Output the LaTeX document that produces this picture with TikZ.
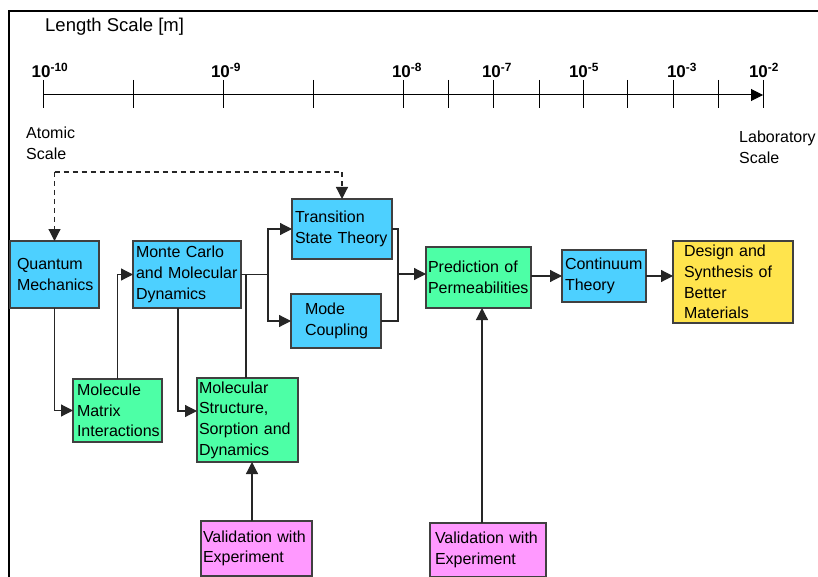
\documentclass[tikz,border=0pt]{standalone}
\usepackage{fontspec}
\setmainfont{Liberation Sans}
\usetikzlibrary{arrows.meta}

\definecolor{tcyan}{RGB}{77,208,255}
\definecolor{tgreen}{RGB}{77,255,166}
\definecolor{tyellow}{RGB}{255,228,77}
\definecolor{tpink}{RGB}{255,153,255}

\newcommand{\boxfont}{\fontsize{16}{20.7}\selectfont\hyphenpenalty=10000}
\newcommand{\tenpow}[1]{10\textsuperscript{-#1}}

\begin{document}
\begin{tikzpicture}[x=1pt,y=-1pt,
  arr/.style={-{Triangle[length=12pt,width=12pt]}},
  link/.style={line width=1.2pt, draw=black!85},
  cell/.style n args={3}{draw=black!75, line width=1.3pt, anchor=north west,
    outer sep=0pt, inner ysep=0pt, inner xsep=#3pt, minimum width=#1pt,
    minimum height=#2pt, text width={#1pt-2*#3pt}, align=left, font=\boxfont},
  theory/.style={fill=tcyan},
  model/.style={fill=tgreen},
  goal/.style={fill=tyellow},
  check/.style={fill=tpink},
  tickmark/.style={line width=1pt},
  scalelabel/.style={anchor=base, inner sep=0pt, font=\fontsize{17}{19}\selectfont\bfseries}
]
\useasboundingbox (0,0) rectangle (818,577);

% frame
\draw[line width=1.8pt] (9,577) -- (9,11) -- (818,11);

% length axis
\node[anchor=base west, inner sep=0pt, font=\fontsize{18.5}{22}\selectfont] (title) at (45,32) {Length Scale [m]};
\draw[tickmark, arr] (43,95) -- (763,95);
\foreach \tx in {43,133,223,313,403,448,493,539,583,627,673,718,763}
  \draw[tickmark] (\tx,80) -- (\tx,108);
\foreach \cx/\ex in {50/10, 226/9, 407/8, 497/7, 584/5, 682/3, 764/2}
  \node[scalelabel] (p\ex) at (\cx,78) {\tenpow{\ex}};
\node[anchor=north west, inner sep=0pt, align=left, font=\boxfont] (atomic) at (26,127) {Atomic\\Scale};
\node[anchor=north west, inner sep=0pt, align=left, font=\boxfont] (lab) at (739,131) {Laboratory\\Scale};

% stages
\node[cell={89}{67}{7}, theory] (qm) at (10,241) {Quantum\\Mechanics};
\node[cell={108}{67}{3}, theory] (mc) at (133,241) {Monte Carlo\\and Molecular\\Dynamics};
\node[cell={100}{60}{3}, theory] (tst) at (292,199) {Transition\\State Theory};
\node[cell={90}{54}{14}, theory] (mcp) at (291,294) {Mode\\Coupling};
\node[cell={89}{63}{4}, model] (mmi) at (73,379) {Molecule\\Matrix\\Interactions};
\node[cell={101}{84}{2}, model] (ms) at (197,378) {Molecular\\Structure,\\Sorption and\\Dynamics};
\node[cell={105}{61}{2}, model] (pp) at (426,247) {Prediction of\\Permeabilities};
\node[cell={84}{52}{3}, theory] (ct) at (562,250) {Continuum\\Theory};
\node[cell={120}{82}{11}, goal] (dsm) at (673,241) {Design and\\Synthesis of\\Better\\Materials};
\node[cell={111}{55}{2}, check] (val1) at (201,521) {Validation with\\Experiment};
\node[cell={116}{54}{5}, check] (val2) at (430,523) {Validation with\\Experiment};

% dashed feed from the atomic scale
\coordinate (dl) at (qm.north |- 0,172);
\draw[link, dash pattern=on 5pt off 4pt, arr] (dl) -- (qm.north);
\draw[link, dash pattern=on 5pt off 4pt, arr] (dl) -| (tst.north);

% connectors
\draw[link, arr] (qm.south) |- (mmi.west);
\draw[link, arr] (mmi.north) |- (mc.west);
\draw[link, arr] ([xshift=-9pt]mc.south) |- ([yshift=9pt]ms.west);
\coordinate (jl) at ([xshift=27pt]mc.east);
\draw[link] (mc.east) -- (jl);
\draw[link] ([xshift=-1.5pt]ms.north) |- (jl);
\draw[link, arr] (jl) |- (tst.west);
\draw[link, arr] (jl) |- (mcp.west);
\coordinate (jr) at (398,274);
\draw[link] (tst.east) -| (jr);
\draw[link] (mcp.east) -| (jr);
\draw[link, arr] (jr) -- (jr -| pp.west);
\draw[link, arr] (pp.east |- ct.west) -- (ct.west);
\draw[link, arr] (ct.east) -- (ct.east -| dsm.west);
\coordinate (v1) at ([xshift=-4.5pt]val1.north);
\coordinate (v2) at ([xshift=-6pt]val2.north);
\draw[link, arr] (v1) -- (v1 |- ms.south);
\draw[link, arr] (v2) -- (v2 |- pp.south);
\end{tikzpicture}
\end{document}
